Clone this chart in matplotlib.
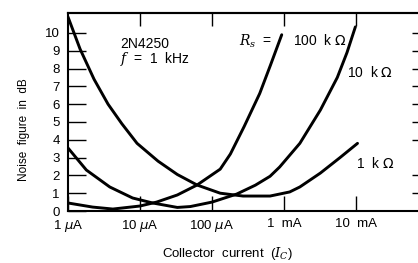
import matplotlib
matplotlib.use("Agg")
import matplotlib.pyplot as plt

plt.rcParams['font.family'] = ['Liberation Sans', 'DejaVu Sans']

# collector current (A) and noise figure (dB)
ic_1k = [1e-6, 1.47e-6, 2.3e-6, 3.6e-6, 5.6e-6, 9.1e-6, 1.78e-5, 3.3e-5,
         6.2e-5, 1.3e-4, 2.7e-4, 6.4e-4, 1.2e-3, 1.66e-3, 3.2e-3, 6e-3, 1.05e-2]
nf_1k = [10.9, 9.1, 7.4, 6.0, 4.9, 3.8, 2.8, 2.05,
         1.46, 1.0, 0.84, 0.84, 1.07, 1.35, 2.13, 3.0, 3.8]

ic_10k = [1e-6, 1.8e-6, 3.8e-6, 7.9e-6, 1.5e-5, 3.3e-5, 5e-5, 1e-4,
          2.2e-4, 4e-4, 6.4e-4, 8.7e-4, 1.66e-3, 3.2e-3, 5.5e-3, 7.5e-3, 9.8e-3]
nf_10k = [3.54, 2.3, 1.35, 0.73, 0.45, 0.2, 0.25, 0.5,
          0.95, 1.45, 1.95, 2.47, 3.8, 5.67, 7.5, 8.9, 10.34]

ic_100k = [1e-6, 2.2e-6, 4.2e-6, 1e-5, 1.7e-5, 3.3e-5, 6.2e-5, 1.3e-4,
           1.8e-4, 2.8e-4, 4.6e-4, 6.5e-4, 9.3e-4]
nf_100k = [0.45, 0.22, 0.11, 0.28, 0.5, 0.9, 1.46, 2.35,
           3.2, 4.75, 6.6, 8.2, 9.9]

x_ticks = [1e-6, 1e-5, 1e-4, 1e-3, 1e-2]
x_labels = ['1 $\\mu$A', '10 $\\mu$A', '100 $\\mu$A', '1  mA', '10  mA']
y_ticks = [0, 1, 2, 3, 4, 5, 6, 7, 8, 9, 10]
right_ticks = [1, 2, 4, 5, 6, 7, 8, 9, 10]

fig = plt.figure(figsize=(4.18, 2.63), dpi=100)
ax = fig.add_axes([68 / 418, 52 / 263, 360 / 418, 198 / 263])

for ic, nf in [(ic_1k, nf_1k), (ic_10k, nf_10k), (ic_100k, nf_100k)]:
    ax.plot(ic, nf, color='black', lw=2.1, solid_joinstyle='round',
            solid_capstyle='round')

ax.set_xscale('log')
ax.set_xlim(1e-6, 1e-1)
ax.set_ylim(0, 11.12)

ax.set_xticks(x_ticks)
ax.set_xticklabels(x_labels, fontsize=9.5)
ax.minorticks_off()
ax.set_yticks(y_ticks)
ax.set_yticklabels([str(v) for v in y_ticks], fontsize=9.5)

ax.tick_params(axis='x', direction='in', length=11, width=1.0, pad=5)
ax.tick_params(axis='y', direction='in', length=13, width=1.0, pad=6)

# shorter ticks hanging from the top edge
top = ax.secondary_xaxis('top')
top.set_xticks(x_ticks[1:])
top.set_xticklabels([])
top.minorticks_off()
top.tick_params(direction='in', length=9, width=1.0)
top.spines['top'].set_linewidth(1.5)

sec = ax.secondary_yaxis('right')
sec.set_yticks(right_ticks)
sec.set_yticklabels([])
sec.tick_params(direction='in', length=11.5, width=1.0)
sec.spines['right'].set_linewidth(1.5)

for s in ax.spines.values():
    s.set_linewidth(1.5)

ax.set_ylabel('Noise  figure  in  dB', fontsize=8.5)
ax.yaxis.set_label_coords(-0.106, 0.41)
fig.text(227 / 418, 1 - 253 / 263, 'Collector  current  ($I_C$)', fontsize=9.5,
         ha='center', va='center', math_fontfamily='dejavuserif')

ax.text(5.3e-6, 9.16, '2N4250', fontsize=10, va='baseline')
ax.text(5.3e-6, 8.31, '$f$  =  1  kHz', fontsize=10, va='baseline',
        math_fontfamily='dejavuserif')
ax.text(2.4e-4, 9.27, '$R_s$  =', fontsize=10, va='baseline',
        math_fontfamily='dejavuserif')
ax.text(1.35e-3, 9.33, '100  k $\\Omega$', fontsize=10, va='baseline')
ax.text(7.6e-3, 7.53, '10  k $\\Omega$', fontsize=10, va='baseline')
ax.text(1.0e-2, 2.42, '1  k $\\Omega$', fontsize=10, va='baseline')

fig.savefig('out.png', dpi=100)
